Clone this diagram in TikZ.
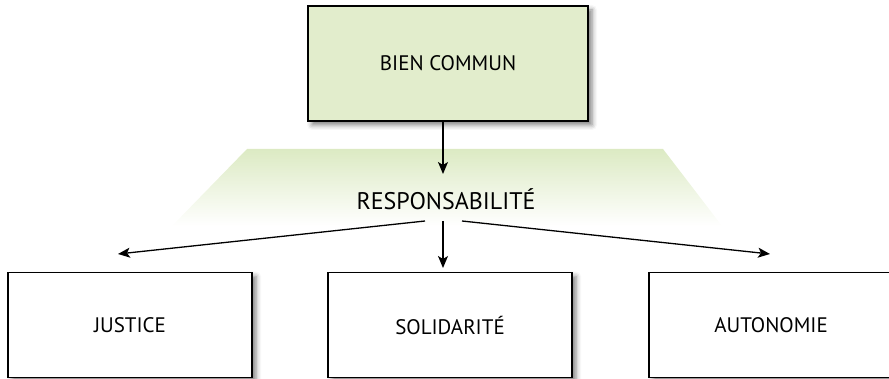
\documentclass[tikz,border=0pt]{standalone}
\usepackage{fontspec}
\setmainfont{PT Sans}
\usetikzlibrary{shadows.blur,arrows.meta}
\definecolor{boxgreen}{RGB}{226,237,204}
\definecolor{trapgreen}{RGB}{220,234,195}
\tikzset{
  x=1pt,y=-1pt,
  mybox/.style={draw=black,line width=1.3pt,minimum width=244pt,minimum height=105pt,
    inner sep=0pt,font=\fontsize{21}{24}\selectfont,fill=white,
    blur shadow={shadow xshift=4pt,shadow yshift=-4pt,shadow blur radius=5pt,shadow opacity=50}},
  myarrow/.style={-{Stealth[length=12pt,width=10pt,inset=3pt]},line width=1.3pt}
}
\begin{document}
\begin{tikzpicture}
\useasboundingbox (0,0) rectangle (889,379);
% trapezoid gradient
\shade[top color=trapgreen,bottom color=white] (247,149) -- (663,149) -- (722,226) -- (172,226) -- cycle;
% nodes
\node[mybox,fill=boxgreen,minimum width=280pt,minimum height=115pt] (bien) at (448,63.5) {BIEN COMMUN};
\node[font=\fontsize{24}{28}\selectfont,inner sep=0pt] (resp) at (446,199) {RESPONSABILITÉ};
\node[mybox] (just) at (130,325) {JUSTICE};
\node[mybox] (soli) at (450,325) {SOLIDARITÉ};
\node[mybox] (auto) at (771,325) {AUTONOMIE};
% connectors
\coordinate (rl) at (425,221);
\coordinate (rm) at (443,221);
\coordinate (rr) at (462,221);
\draw[myarrow] (bien.south -| rm) -- (443,174);
\draw[myarrow] (rl) -- (118,254);
\draw[myarrow] (rm) -- (443,268);
\draw[myarrow] (rr) -- (770,254);
\end{tikzpicture}
\end{document}
